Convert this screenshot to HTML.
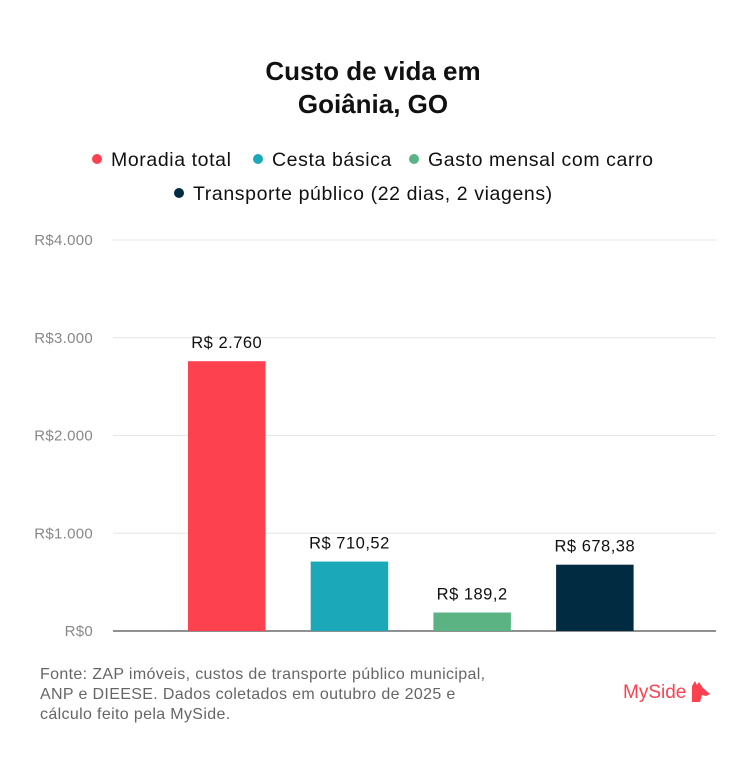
<!DOCTYPE html>
<html><head><meta charset="utf-8"><style>
body{margin:0;width:747px;height:779px;background:#fff;font-family:"Liberation Sans",sans-serif;overflow:hidden}
</style></head><body>
<svg width="747" height="779">
<text x="373" y="80" text-anchor="middle" font-size="26" font-weight="bold" fill="#111">Custo de vida em</text>
<text x="373" y="113" text-anchor="middle" font-size="26" font-weight="bold" fill="#111">Goiânia, GO</text>
<g font-size="19.5" fill="#111" letter-spacing="0.6">
<g><circle cx="97" cy="159" r="5" fill="#fd414f"/><text x="111" y="166">Moradia total</text></g>
<g><circle cx="258" cy="159" r="5" fill="#1ba8b8"/><text x="272" y="166">Cesta básica</text></g>
<g><circle cx="414" cy="159" r="5" fill="#5bb384"/><text x="428" y="166">Gasto mensal com carro</text></g>
<g><circle cx="179" cy="193" r="5" fill="#002b40"/><text x="193" y="200">Transporte público (22 dias, 2 viagens)</text></g>
</g>
<g id="grid"></g><g id="bars"></g>
<g font-size="16" fill="#666" letter-spacing="0.35">
<text x="40" y="679">Fonte: ZAP imóveis, custos de transporte público municipal,</text>
<text x="40" y="699">ANP e DIEESE. Dados coletados em outubro de 2025 e</text>
<text x="40" y="719">cálculo feito pela MySide.</text>
</g>
<text x="623" y="698" font-size="19" fill="#fd414f">MySide</text>
<path d="M692 686 l3 -5 l2 4 l2 -3 l4 6 l7 6 l-4 2 l-4 -1 l-2 7 l-8 0 z" fill="#fd414f"/>
</svg>
<script>
const categories=["Moradia total","Cesta básica","Gasto mensal com carro","Transporte público"];
const values=[2760,710.52,189.2,678.38];
const valueLabels=["R$ 2.760","R$ 710,52","R$ 189,2","R$ 678,38"];
const colors=["#fd414f","#1ba8b8","#5bb384","#002b40"];
const ticks=[0,1000,2000,3000,4000];
const tickLabels=["R$0","R$1.000","R$2.000","R$3.000","R$4.000"];
const NS="http://www.w3.org/2000/svg";
const y=v=>631-v*(391/4000);
const x=i=>188+i*122.7;
const g=document.getElementById('grid'),b=document.getElementById('bars');
function mk(t,a,p){const e=document.createElementNS(NS,t);for(const k in a)e.setAttribute(k,a[k]);p.appendChild(e);return e;}
ticks.forEach((t,i)=>{
 const l=mk('line',{x1:113,x2:716,y1:y(t),y2:y(t),stroke:t===0?'#222':'#e6e6e6','stroke-width':1},g);
 
 
 const tx=mk('text',{x:93,y:y(t)+5,'text-anchor':'end','font-size':15,'letter-spacing':0.3,fill:'#888'},g);
 tx.textContent=tickLabels[i];
 
 
});
values.forEach((v,i)=>{
 const r=mk('rect',{x:x(i),y:y(v),width:77.5,height:631-y(v),fill:colors[i]},b);
 
 
 const t=mk('text',{x:x(i)+38.75,y:y(v)-13,'text-anchor':'middle','font-size':16.5,'letter-spacing':0.5,fill:'#111'},b);
 t.textContent=valueLabels[i];
 
 
});
</script>
</body></html>
